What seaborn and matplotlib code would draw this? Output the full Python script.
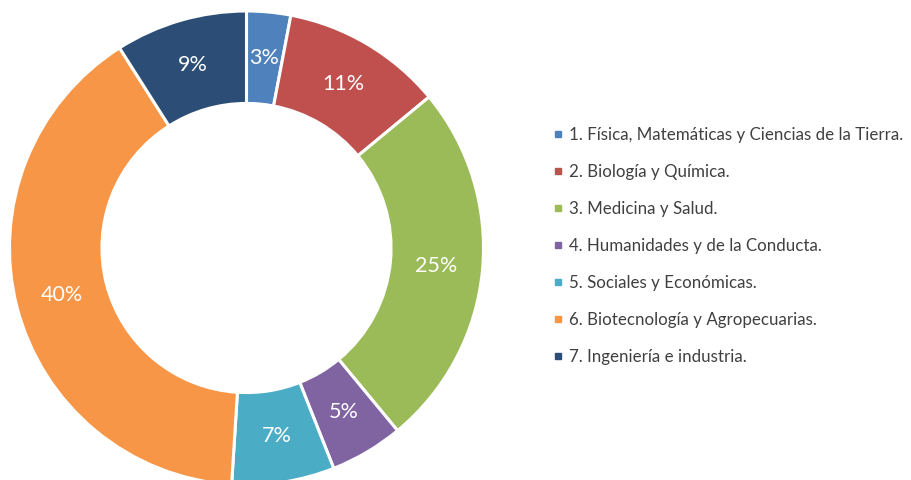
import matplotlib
matplotlib.use("Agg")
import matplotlib.pyplot as plt
from matplotlib.lines import Line2D
import seaborn as sns

# datos del gráfico
AREAS = [
    "1. Física, Matemáticas y Ciencias de la Tierra.",
    "2. Biología y Química.",
    "3. Medicina y Salud.",
    "4. Humanidades y de la Conducta.",
    "5. Sociales y Económicas.",
    "6. Biotecnología y Agropecuarias.",
    "7. Ingeniería e industria.",
]
PORCENTAJES = [3, 11, 25, 5, 7, 40, 9]
COLORES = ["#4F81BD", "#C0504D", "#9BBB59", "#8064A2", "#4BACC6", "#F79646", "#2C4D75"]

sns.set_theme(style="white")
plt.rcParams['font.family'] = ['Lato', 'DejaVu Sans']

fig = plt.figure(figsize=(9.12, 4.8), dpi=100)

# eje del anillo (centro ~ (246, 248) px, radio ~237 px)
W, H = 912, 480
r = 237
cx, cy = 246.5, H - 248
ax = fig.add_axes([(cx - r) / W, (cy - r) / H, 2 * r / W, 2 * r / H])

wedges, _, autotexts = ax.pie(
    PORCENTAJES, colors=COLORES, startangle=90, counterclock=False,
    radius=1, autopct=lambda p: f"{p:.0f}%", pctdistance=0.805,
    wedgeprops=dict(width=0.39, edgecolor="white", linewidth=2.2),
    textprops=dict(color="white", fontsize=15.5),
)
ax.set_xlim(-1, 1)
ax.set_ylim(-1, 1)
ax.set_aspect("equal")
ax.axis("off")

# leyenda con marcadores cuadrados
handles = [Line2D([], [], marker="s", linestyle="", color=c, markersize=5)
           for c in COLORES]
leg = fig.legend(handles, AREAS, loc="center left",
                 bbox_to_anchor=(0.598, 0.488), frameon=False,
                 fontsize=12.2, labelspacing=1.24, handlelength=0.5,
                 handletextpad=0.4, borderpad=0)
for t in leg.get_texts():
    t.set_color("#404040")

fig.savefig("out.png", dpi=100)
